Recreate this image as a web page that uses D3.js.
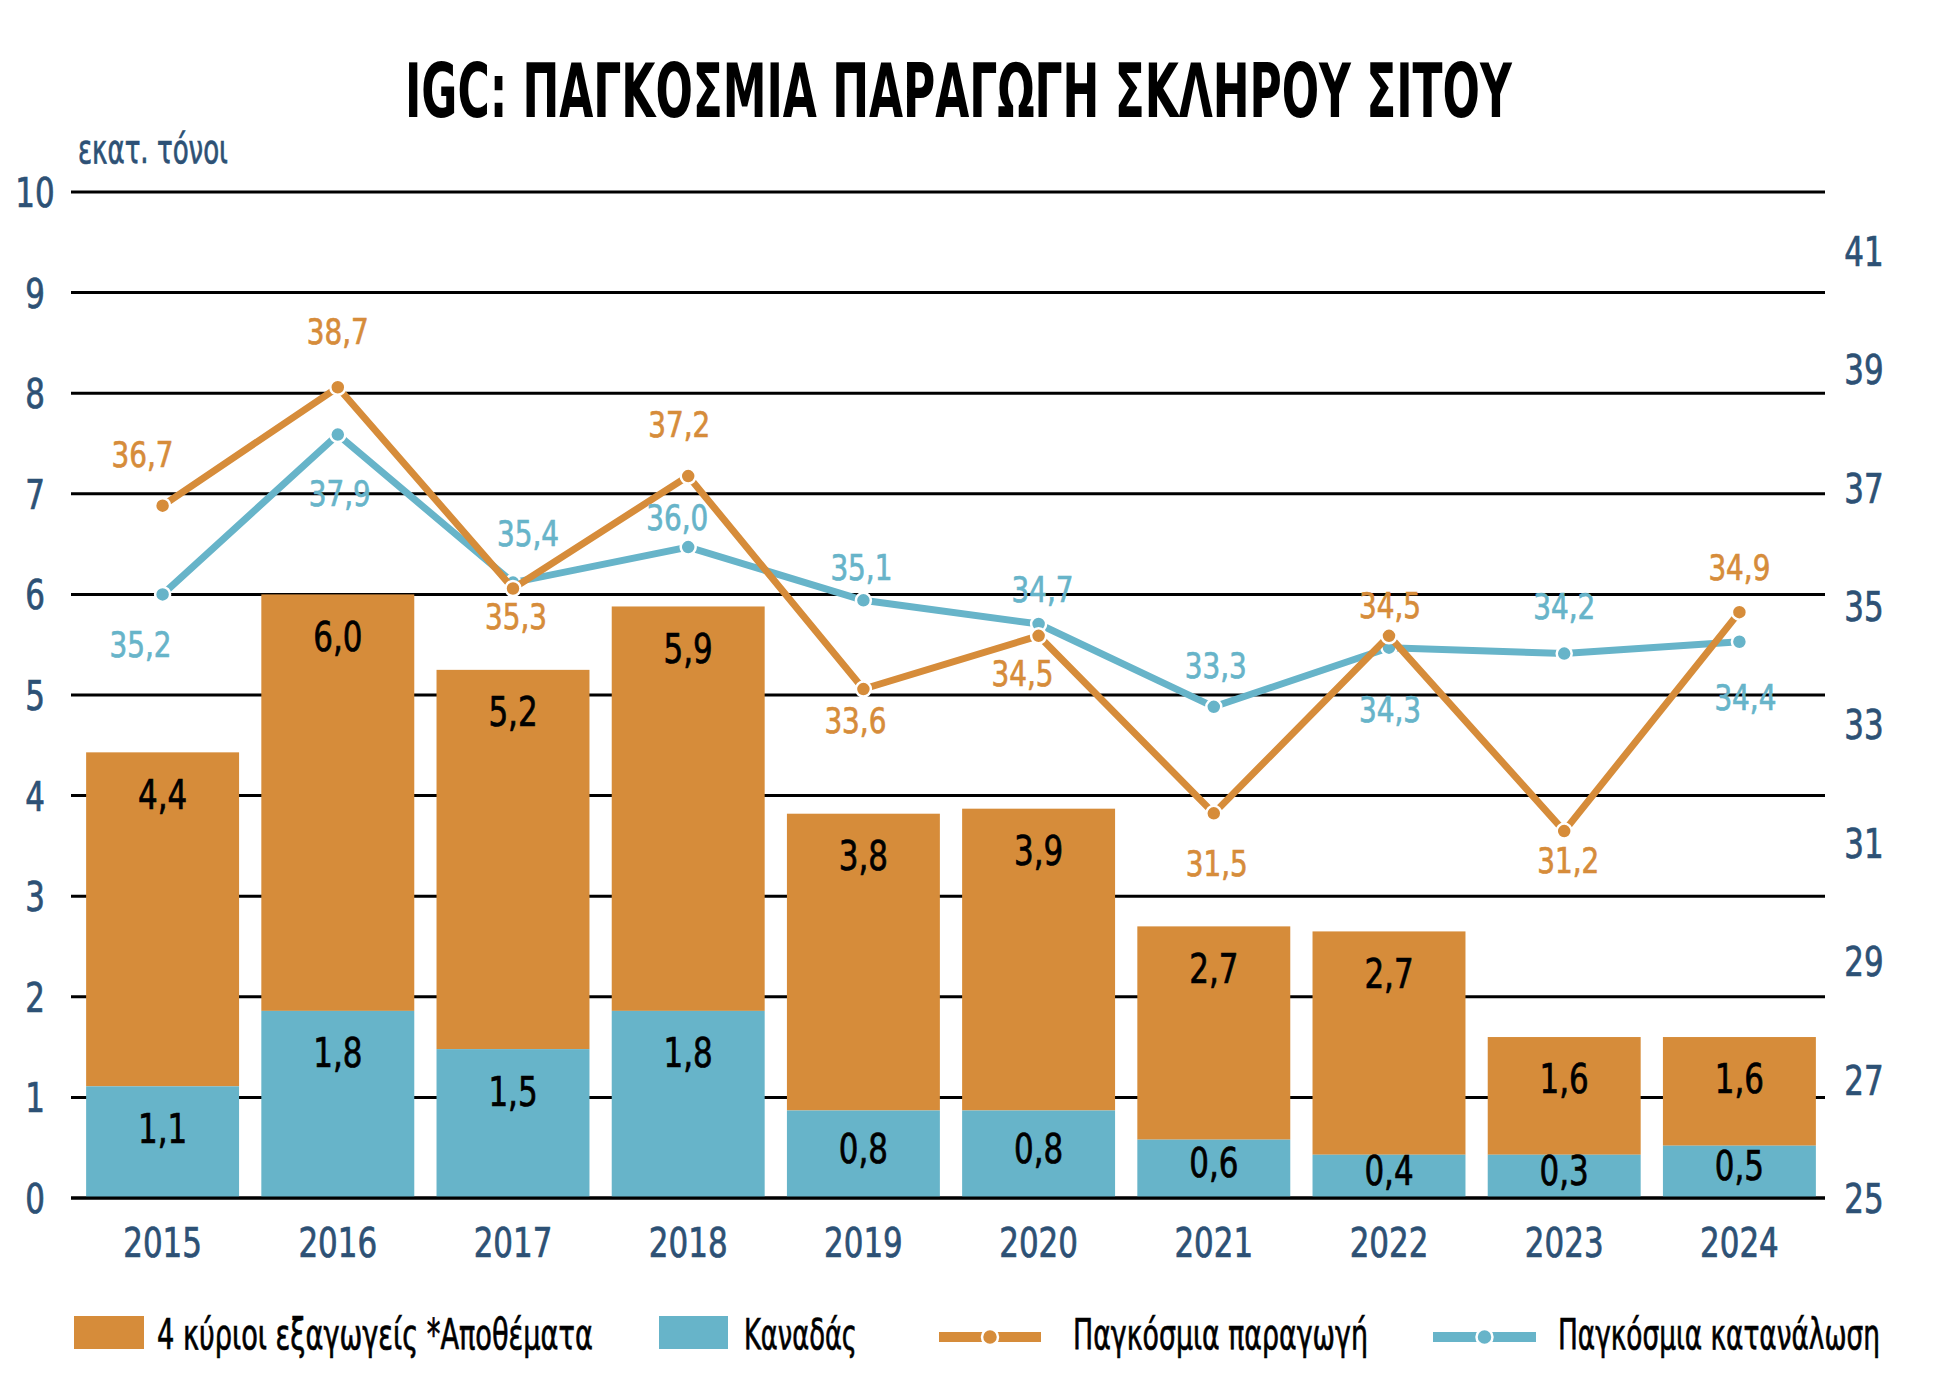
<!DOCTYPE html>
<html>
<head>
<meta charset="utf-8">
<script src="https://cdn.jsdelivr.net/npm/d3@7"></script>
<style>
  html, body { margin: 0; padding: 0; background: #fff; }
  svg text { font-family: "Liberation Sans Narrow", "DejaVu Sans Condensed", sans-serif; }
</style>
</head>
<body>
<svg id="chart" width="1944" height="1382"></svg>
<script>
// Years on the x axis
const years = ["2015", "2016", "2017", "2018", "2019", "2020", "2021", "2022", "2023", "2024"];

// Stocks, million tonnes (left axis). Bar heights
const totalStocks  = [4.43, 6.0, 5.25, 5.88, 3.82, 3.87, 2.70, 2.65, 1.60, 1.60];
const canadaStocks = [1.11, 1.86, 1.48, 1.86, 0.87, 0.87, 0.58, 0.43, 0.43, 0.52];
// Printed labels on the bars
const totalLabels  = ["4,4", "6,0", "5,2", "5,9", "3,8", "3,9", "2,7", "2,7", "1,6", "1,6"];
const canadaLabels = ["1,1", "1,8", "1,5", "1,8", "0,8", "0,8", "0,6", "0,4", "0,3", "0,5"];

// World production / consumption, million tonnes (right axis)
const production  = [36.7, 38.7, 35.3, 37.2, 33.6, 34.5, 31.5, 34.5, 31.2, 34.9];
const consumption = [35.2, 37.9, 35.4, 36.0, 35.1, 34.7, 33.3, 34.3, 34.2, 34.4];

// Axis ticks
const leftTicks  = [0, 1, 2, 3, 4, 5, 6, 7, 8, 9, 10];
const rightTicks = [25, 27, 29, 31, 33, 35, 37, 39, 41];

// Where each line label sits relative to its point [dx, dy]
const prodLabelOffset = [[-20,-52],[0,-56],[3,28],[-9,-52],[-8,31],[-16,37],[3,50],[1,-31],[4,29],[0,-45]];
const consLabelOffset = [[-22,50],[2,58],[15,-50],[-11,-30],[-2,-33],[4,-35],[2,-42],[1,61],[0,-48],[6,55]];

const ORANGE = "#d68c3a";
const BLUE = "#67b4c9";
const NAVY = "#2d5175";
const NARROW = 0.86;   // the source font is narrower than anything installed

const svg = d3.select("#chart");
const plotLeft = 71, plotRight = 1825, plotTop = 192, plotBottom = 1198;

const fmt = d3.formatLocale({ decimal: ",", thousands: ".", grouping: [3], currency: ["", "€"] }).format(".1f");

const x = d3.scaleBand()
  .domain(years)
  .range([75, 1827])
  .paddingInner(0.127)
  .paddingOuter(0.0635);

const yLeft = d3.scaleLinear().domain([0, 10]).range([plotBottom, plotTop]);
const yRight = d3.scaleLinear().domain([25, 42]).range([plotBottom, plotTop]);

// Squeeze a text horizontally so it is w pixels wide, starting at (x, y)
function squeeze(sel, x0, y0, w) {
  const n = sel.node().getComputedTextLength();
  sel.attr("x", 0).attr("y", 0)
     .attr("transform", `translate(${x0},${y0}) scale(${w / n},1)`);
}

// A little heavier, like the source font
function heavy(sel, color) {
  sel.attr("fill", color).attr("stroke", color).attr("stroke-width", 0.7);
}

// Title
const title = svg.append("text")
  .style("font-size", "75px").style("font-weight", "bold").attr("fill", "#000")
  .text("IGC: ΠΑΓΚΟΣΜΙΑ ΠΑΡΑΓΩΓΗ ΣΚΛΗΡΟΥ ΣΙΤΟΥ");
squeeze(title, 405, 117, 1107);

// Unit label
const unit = svg.append("text")
  .style("font-size", "40px")
  .text("εκατ. τόνοι");
heavy(unit, NAVY);
squeeze(unit, 78, 163, 150);

// Gridlines
svg.append("g")
  .selectAll("line")
  .data(leftTicks)
  .join("line")
  .attr("x1", plotLeft).attr("x2", plotRight)
  .attr("y1", d => yLeft(d)).attr("y2", d => yLeft(d))
  .attr("stroke", "#000").attr("stroke-width", 3);

// Left axis labels
const yAxisL = d3.axisLeft(yLeft).tickValues(leftTicks).tickSize(0).tickPadding(0);
const gl = svg.append("g").attr("transform", "translate(35,0)").call(yAxisL);
gl.select(".domain").remove();
gl.selectAll("text")
  .attr("x", 0).attr("dy", "0.36em")
  .attr("text-anchor", "middle")
  .attr("transform", `scale(${NARROW},1)`)
  .style("font-size", "40px")
  .call(heavy, NAVY);

// Right axis labels
const yAxisR = d3.axisRight(yRight).tickValues(rightTicks).tickSize(0).tickPadding(0);
const gr = svg.append("g").attr("transform", "translate(1864,0)").call(yAxisR);
gr.select(".domain").remove();
gr.selectAll("text")
  .attr("x", 0).attr("dy", "0.36em")
  .attr("text-anchor", "middle")
  .attr("transform", `scale(${NARROW},1)`)
  .style("font-size", "40px")
  .call(heavy, NAVY);

// Bars: Canada at the bottom, the rest of the 4 exporters on top
const rows = years.map((yr, i) => ({
  year: yr, total: totalStocks[i], canada: canadaStocks[i],
  totalLabel: totalLabels[i], canadaLabel: canadaLabels[i]
}));

const bars = svg.append("g");
bars.selectAll("rect.orange")
  .data(rows).join("rect")
  .attr("class", "orange")
  .attr("x", d => x(d.year)).attr("width", x.bandwidth())
  .attr("y", d => yLeft(d.total))
  .attr("height", d => yLeft(d.canada) - yLeft(d.total))
  .attr("fill", ORANGE);

bars.selectAll("rect.blue")
  .data(rows).join("rect")
  .attr("class", "blue")
  .attr("x", d => x(d.year)).attr("width", x.bandwidth())
  .attr("y", d => yLeft(d.canada))
  .attr("height", d => yLeft(0) - yLeft(d.canada))
  .attr("fill", BLUE);

// Label sits near the top of a segment, or in its middle when the segment is short
function segLabelY(y0, y1) {
  return Math.min(y0 + 42, (y0 + y1) / 2 - 6);
}

bars.selectAll("text.tl")
  .data(rows).join("text")
  .attr("class", "tl")
  .attr("transform", d => `translate(${x(d.year) + x.bandwidth() / 2},${segLabelY(yLeft(d.total), yLeft(d.canada))}) scale(${NARROW},1)`)
  .attr("dy", "0.36em").attr("text-anchor", "middle")
  .style("font-size", "40px")
  .call(heavy, "#000")
  .text(d => d.totalLabel);

bars.selectAll("text.cl")
  .data(rows).join("text")
  .attr("class", "cl")
  .attr("transform", d => `translate(${x(d.year) + x.bandwidth() / 2},${segLabelY(yLeft(d.canada), yLeft(0))}) scale(${NARROW},1)`)
  .attr("dy", "0.36em").attr("text-anchor", "middle")
  .style("font-size", "40px")
  .call(heavy, "#000")
  .text(d => d.canadaLabel);

// Axis baseline on top of the bars
svg.append("line")
  .attr("x1", plotLeft).attr("x2", plotRight)
  .attr("y1", yLeft(0)).attr("y2", yLeft(0))
  .attr("stroke", "#000").attr("stroke-width", 3);

// Year labels
const xAxis = d3.axisBottom(x).tickSize(0).tickPadding(0);
const gx = svg.append("g").attr("transform", "translate(0,1257)").call(xAxis);
gx.select(".domain").remove();
gx.selectAll("text")
  .attr("y", 0).attr("dy", 0)
  .attr("transform", `scale(${NARROW},1)`)
  .style("font-size", "40px")
  .call(heavy, NAVY);

// Lines
const cx = i => x(years[i]) + x.bandwidth() / 2;

function drawSeries(values, color) {
  const g = svg.append("g");
  const line = d3.line().x((d, i) => cx(i)).y(d => yRight(d));
  g.append("path")
    .datum(values)
    .attr("d", line)
    .attr("fill", "none")
    .attr("stroke", color)
    .attr("stroke-width", 7)
    .attr("stroke-linejoin", "miter");
  g.selectAll("circle")
    .data(values).join("circle")
    .attr("cx", (d, i) => cx(i)).attr("cy", d => yRight(d))
    .attr("r", 7.5)
    .attr("fill", color).attr("stroke", "#fff").attr("stroke-width", 2.5);
  return g;
}

function drawLabels(values, color, offsets) {
  svg.append("g").selectAll("text")
    .data(values).join("text")
    .attr("transform", (d, i) => `translate(${cx(i) + offsets[i][0]},${yRight(d) + offsets[i][1]}) scale(${NARROW},1)`)
    .attr("dy", "0.36em").attr("text-anchor", "middle")
    .style("font-size", "36px")
    .call(heavy, color)
    .text(d => fmt(d));
}

drawSeries(consumption, BLUE);
drawSeries(production, ORANGE);
drawLabels(consumption, BLUE, consLabelOffset);
drawLabels(production, ORANGE, prodLabelOffset);

// Legend
const legend = svg.append("g");
const legendY = 1337;

legend.append("rect").attr("x", 74).attr("y", 1316).attr("width", 70).attr("height", 33).attr("fill", ORANGE);
legend.append("rect").attr("x", 659).attr("y", 1316).attr("width", 69).attr("height", 33).attr("fill", BLUE);

[[939, 1041, ORANGE], [1433, 1536, BLUE]].forEach(([x1, x2, c]) => {
  legend.append("line")
    .attr("x1", x1).attr("x2", x2).attr("y1", legendY).attr("y2", legendY)
    .attr("stroke", c).attr("stroke-width", 10);
  legend.append("circle")
    .attr("cx", (x1 + x2) / 2).attr("cy", legendY).attr("r", 8)
    .attr("fill", c).attr("stroke", "#fff").attr("stroke-width", 2.5);
});

const legendTexts = [
  { text: "4 κύριοι εξαγωγείς *Αποθέματα", x: 157, w: 436 },
  { text: "Καναδάς", x: 744, w: 113 },
  { text: "Παγκόσμια παραγωγή", x: 1073, w: 295 },
  { text: "Παγκόσμια κατανάλωση", x: 1558, w: 322 }
];
legendTexts.forEach(d => {
  const t = legend.append("text")
    .style("font-size", "42px")
    .text(d.text);
  heavy(t, "#000");
  squeeze(t, d.x, 1349, d.w);
});
</script>
</body>
</html>
